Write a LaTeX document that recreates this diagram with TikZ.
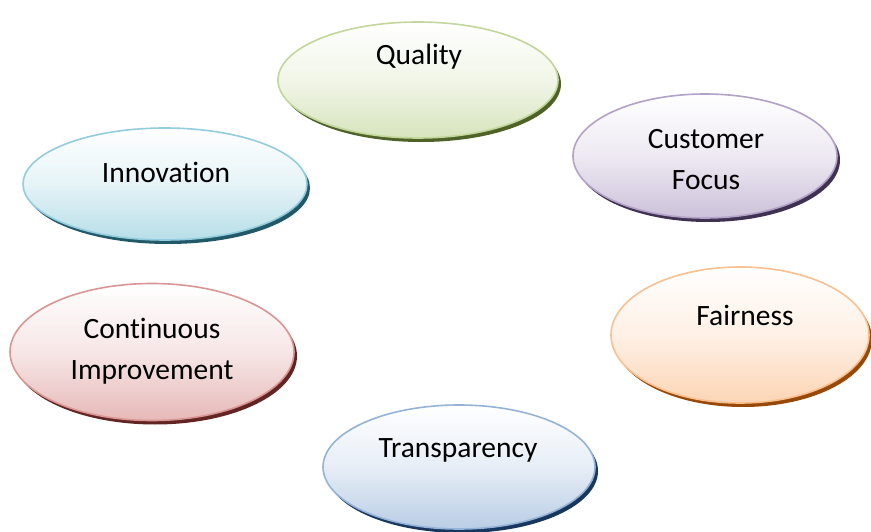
\documentclass[tikz,border=0pt]{standalone}
\usepackage{fontspec}
\setmainfont[Ligatures={NoCommon,NoRequired,NoContextual}]{Carlito}
\usetikzlibrary{shapes.geometric,shadows}
\definecolor{qB}{HTML}{C3D69B}\definecolor{qF}{HTML}{D7E4BD}\definecolor{qS}{HTML}{4F6228}
\definecolor{cB}{HTML}{B3A2C7}\definecolor{cF}{HTML}{CCC1DA}\definecolor{cS}{HTML}{3F3151}
\definecolor{iB}{HTML}{93CDDD}\definecolor{iF}{HTML}{B7DEE8}\definecolor{iS}{HTML}{215968}
\definecolor{fB}{HTML}{FAC090}\definecolor{fF}{HTML}{FCD5B5}\definecolor{fS}{HTML}{984807}
\definecolor{rB}{HTML}{D99694}\definecolor{rF}{HTML}{E6B9B8}\definecolor{rS}{HTML}{632523}
\definecolor{tB}{HTML}{95B3D7}\definecolor{tF}{HTML}{B9CDE5}\definecolor{tS}{HTML}{17375E}
\tikzset{
  oval/.style n args={5}{ellipse, inner sep=0pt, minimum width=#1, minimum height=#2,
    draw=#3, line width=1.6pt, top color=white, bottom color=#4, middle color=#4!35!white,
    drop shadow={shadow xshift=3pt, shadow yshift=-4pt, fill=#5, opacity=1}},
  txt/.style={font=\fontsize{29.5}{41}\selectfont, align=center, inner sep=0pt, text=black}
}
\begin{document}
\begin{tikzpicture}[x=1pt,y=1pt]
\useasboundingbox (0,0) rectangle (871,531);
\fill[white] (0,0) rectangle (871,531);
\node[oval={280pt}{116pt}{qB}{qF}{qS}] (quality) at (418,531-80) {};
\node[oval={264pt}{124pt}{cB}{cF}{cS}] (customer) at (705,531-156) {};
\node[oval={284pt}{112pt}{iB}{iF}{iS}] (innovation) at (165,531-184) {};
\node[oval={258pt}{136pt}{fB}{fF}{fS}] (fairness) at (740,531-335) {};
\node[oval={284pt}{137pt}{rB}{rF}{rS}] (continuous) at (152,531-352) {};
\node[oval={272pt}{124pt}{tB}{tF}{tS}] (transparency) at (459,531-467) {};
\node[txt] (tq) at (419,531-57) {Quality};
\node[txt] (tc) at (706,531-160) {Customer\\Focus};
\node[txt] (ti) at (166,531-172) {Innovation};
\node[txt] (tf) at (745,531-315) {Fairness};
\node[txt] (tr) at (152,531-351.5) {Continuous\\Improvement};
\node[txt] (tt) at (458,531-450) {Transparency};
\end{tikzpicture}
\end{document}
